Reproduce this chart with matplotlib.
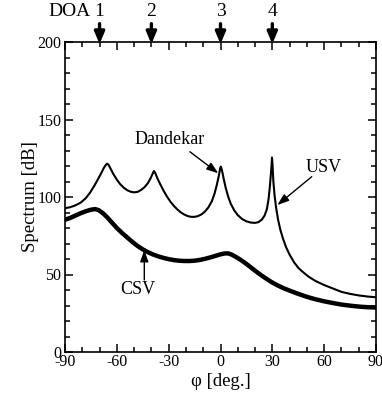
import matplotlib
matplotlib.use("Agg")
import matplotlib.pyplot as plt
import matplotlib.transforms as mtransforms
from matplotlib.ticker import MultipleLocator

plt.rcParams["font.family"] = ["Liberation Serif", "DejaVu Serif"]
plt.rcParams["axes.unicode_minus"] = False

# Dandekar / USV spectrum (thin curve)
dand_deg = [-90, -87, -84, -81, -78, -75.5, -73, -71, -69, -67.5, -66.3, -65.5, -64.7,
            -63.5, -62, -60, -58, -56, -54, -52, -50, -48, -46, -44, -42, -40.5, -39.3,
            -38.5, -37.7, -36.5, -35, -33, -31, -29, -27, -25, -23, -21, -19, -17, -15,
            -13, -11, -9, -7, -5, -3.5, -2.2, -1, -0.2, 0.2, 0.8, 1.8, 3, 4.5, 6, 8, 10,
            12.5, 15, 17.5, 20, 22, 24, 25.5, 26.8, 27.8, 28.6, 29.2, 29.6, 29.8, 30.1,
            30.6, 31.3, 32.2, 33.3, 34.6, 36.2, 38, 40, 42.5, 45, 48, 51, 55, 60, 65, 70,
            75, 80, 85, 90]
dand_db = [92.8, 93.4, 94.6, 96.3, 99.2, 102.8, 107.3, 111.3, 115.5, 118.8, 120.8, 121.5, 120.6,
           118, 114.8, 111.2, 108.2, 106, 104.4, 103.4, 103, 103.3, 104.5, 106.3, 109, 112, 115,
           116.8, 115.3, 112, 108.5, 104.2, 100.3, 97, 94.3, 92, 90.1, 88.7, 87.7, 87.2, 87.2,
           87.7, 88.8, 90.6, 93.3, 97.3, 102, 107.5, 113.5, 118.5, 119.6, 117.5, 112, 106, 100,
           95.5, 91.3, 88.3, 85.8, 84.3, 83.5, 83.3, 83.8, 85.5, 88, 92, 98.5, 107, 115.5, 121,
           125.5, 121, 110, 101, 93, 85.5, 79, 73, 67.5, 62.8, 58, 54.3, 51.3, 48.6, 45.8, 43.2,
           41, 38.8, 37.5, 36.5, 35.8, 35.3]

# CSV spectrum (thick curve)
csv_deg = [-90, -87, -84, -81, -78, -75, -72.5, -70.5, -68, -65.5, -63, -60, -57, -54, -51,
           -48, -45, -42, -39, -36, -33, -30, -27, -24, -21, -18, -15, -12, -9, -6, -3, 0,
           2.5, 4.5, 6.5, 9, 12, 15, 18, 21, 24, 27, 30, 33, 36, 40, 45, 50, 55, 60, 65,
           70, 75, 80, 85, 90]
csv_db = [85.3, 86.5, 88.0, 89.5, 90.8, 91.8, 92.2, 91.5, 89.5, 86.8, 83.7, 80, 76.8, 73.9,
          71, 68.4, 66.2, 64.4, 62.9, 61.7, 60.7, 59.9, 59.3, 58.9, 58.7, 58.7, 58.9, 59.4,
          60.1, 61, 62, 63, 63.6, 63.6, 62.8, 61.3, 59.2, 56.8, 54.2, 51.6, 49.2, 46.9, 44.8,
          43, 41.4, 39.6, 37.5, 35.6, 34, 32.7, 31.6, 30.6, 29.9, 29.3, 28.9, 28.7]

doa_deg = [-70, -40, 0, 30]
doa_labels = ["1", "2", "3", "4"]

fig = plt.figure(figsize=(3.82, 4.0), dpi=100)
ax = fig.add_axes([65 / 382, 48 / 400, 311 / 382, 310 / 400])

ax.plot(dand_deg, dand_db, color="black", lw=1.5, solid_joinstyle="round")
ax.plot(csv_deg, csv_db, color="black", lw=3.2, solid_joinstyle="round")

ax.set_xlim(-90, 90)
ax.set_ylim(0, 200)
ax.xaxis.set_major_locator(MultipleLocator(30))
ax.xaxis.set_minor_locator(MultipleLocator(10))
ax.yaxis.set_major_locator(MultipleLocator(50))
ax.yaxis.set_minor_locator(MultipleLocator(10))
ax.tick_params(which="both", direction="in", top=True, right=True, labelsize=11.5, width=1.1)
ax.tick_params(which="major", length=6)
ax.tick_params(which="minor", length=3.5)
ax.tick_params(axis="x", pad=1.5)
ax.tick_params(axis="y", pad=2.5)
for s in ax.spines.values():
    s.set_linewidth(1.2)

ax.set_xlabel("φ [deg.]", fontsize=13.5, labelpad=2)
ax.set_ylabel("Spectrum [dB]", fontsize=13.5, labelpad=-1)

# DOA markers above the plot
trans = mtransforms.blended_transform_factory(ax.transData, ax.transAxes)
for d, lab in zip(doa_deg, doa_labels):
    ax.annotate("", xy=(d, 0.985), xytext=(d, 1.068), xycoords=trans, textcoords=trans,
                arrowprops=dict(arrowstyle="-|>,head_width=0.3,head_length=0.7",
                                lw=2.4, color="black", mutation_scale=10))
    ax.text(d, 1.1, lab, transform=trans, ha="center", va="center", fontsize=14)
ax.text(-75, 1.1, "DOA", transform=trans, ha="right", va="center", fontsize=14)

# curve labels
arrow_kw = dict(arrowstyle="-|>,head_width=0.25,head_length=0.7", lw=1.0,
                color="black", mutation_scale=10, shrinkA=0, shrinkB=0)
ax.text(-29.2, 137, "Dandekar", ha="center", va="center", fontsize=13)
ax.annotate("", xy=(-1.3, 115.3), xytext=(-17.7, 129.2), arrowprops=arrow_kw)
ax.text(59.6, 119, "USV", ha="center", va="center", fontsize=13)
ax.annotate("", xy=(32.9, 94.8), xytext=(52.8, 113.1), arrowprops=arrow_kw)
ax.text(-47.8, 40, "CSV", ha="center", va="center", fontsize=13)
ax.annotate("", xy=(-44.1, 65.8), xytext=(-44.1, 46.5), arrowprops=arrow_kw)

fig.savefig("out.png", dpi=100)
